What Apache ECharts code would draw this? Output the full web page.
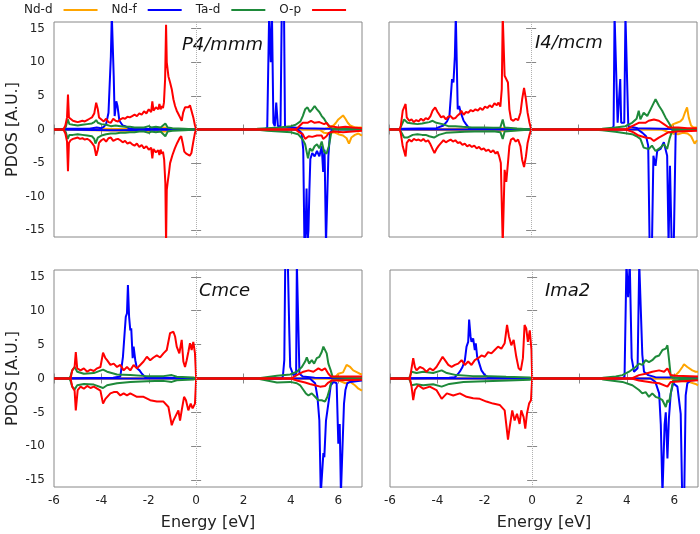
<!DOCTYPE html>
<html>
<head>
<meta charset="utf-8">
<script src="https://cdn.jsdelivr.net/npm/echarts@6/dist/echarts.min.js"></script>
<style>
  html, body { margin: 0; padding: 0; background: #fff; }
  #chart { width: 700px; height: 534px; }
</style>
</head>
<body>
<div id="chart"></div>
<script>
// tick labels
const xTicks = [-6, -4, -2, 0, 2, 4, 6]
const yTicks = [-15, -10, -5, 0, 5, 10, 15]
const speciesNames = ['Nd-d', 'Nd-f', 'Ta-d', 'O-p']
const panelTitles = ['P4/mmm', 'I4/mcm', 'Cmce', 'Ima2']

// ---- P4/mmm : [energy, pdos] ----
const pm_Ndd_up = [[-6,0],[-5.5,0.05],[-4.2,0.1],[-2,0.05],[-1.3,0.3],[-1.2,0.05],[0,0],[5.4,0],[5.6,0.3],[5.8,0.6],[5.9,1.0],[6.0,1.5],[6.1,1.8],[6.2,2.1],[6.3,1.6],[6.4,1.0],[6.5,0.6],[6.7,0.3],[7,0.3]]
const pm_Ndd_dn = [[-6,0],[-5.5,-0.05],[-1.3,-0.3],[-1.2,-0.05],[0,0],[5.2,0],[5.4,-0.5],[5.6,-0.6],[5.8,-0.4],[6.0,-0.7],[6.2,-0.9],[6.35,-1.3],[6.45,-2.1],[6.55,-1.2],[6.7,-0.8],[6.85,-0.6],[7,-0.9]]
const pm_Ndf_up = [[-6,0],[-5.5,0.1],[-4.5,0.1],[-4.2,0.3],[-4.0,0.2],[-3.9,0.4],[-3.8,0.8],[-3.7,2.5],[-3.6,10.9],[-3.56,17],[-3.52,17],[-3.48,8],[-3.44,2.0],[-3.37,4.2],[-3.32,3.5],[-3.24,1.3],[-3.1,0.6],[-3.0,0.5],[-2.9,0.3],[-2.8,0.1],[0,0],[2.9,0],[3.0,0.3],[3.08,17],[3.15,10],[3.2,17],[3.26,1],[3.32,0.5],[3.38,4],[3.45,0.5],[3.56,0.5],[3.61,17],[3.71,17],[3.75,0.4],[4.5,0.2],[5.5,0.1],[7,0]]
const pm_Ndf_dn = [[-6,0],[-3.5,-0.1],[0,0],[4.3,0],[4.45,-0.5],[4.52,-3],[4.57,-17],[4.62,-15],[4.66,-8.8],[4.7,-17],[4.74,-15],[4.78,-9],[4.82,-4.4],[4.9,-3.5],[5.0,-4.0],[5.1,-3.2],[5.2,-4.0],[5.3,-2.5],[5.36,-6.3],[5.42,-3.0],[5.48,-17],[5.53,-17],[5.58,-4],[5.65,-0.5],[5.75,0],[7,0]]
const pm_Tad_up = [[-6,0],[-5.6,0],[-5.5,0.4],[-5.42,1.5],[-5.35,0.8],[-5.2,0.7],[-5.0,0.6],[-4.8,0.7],[-4.6,0.8],[-4.4,0.9],[-4.3,1.1],[-4.22,1.4],[-4.15,1.0],[-4.0,0.8],[-3.8,0.7],[-3.6,0.5],[-3.4,0.6],[-3.2,0.5],[-3.0,0.4],[-2.8,0.4],[-2.6,0.3],[-2.4,0.3],[-2.2,0.3],[-2.0,0.5],[-1.9,0.3],[-1.7,0.4],[-1.5,0.3],[-1.3,0.9],[-1.2,0.3],[-1.0,0.2],[-0.5,0.1],[0,0],[2.5,0],[2.6,0.1],[3.0,0.2],[3.5,0.3],[4.0,0.5],[4.2,0.7],[4.4,1.2],[4.5,2.0],[4.6,3.0],[4.7,3.3],[4.8,2.6],[4.9,3.0],[5.0,3.5],[5.1,3.0],[5.2,2.6],[5.3,2.0],[5.4,1.6],[5.5,1.0],[5.6,0.6],[5.7,0.2],[5.8,0.1],[7,0]]
const pm_Tad_dn = [[-6,0],[-5.6,0],[-5.5,-0.4],[-5.42,-1.4],[-5.35,-0.8],[-5.2,-0.8],[-5.0,-0.7],[-4.8,-0.8],[-4.6,-0.9],[-4.4,-1.0],[-4.3,-1.4],[-4.25,-2.1],[-4.15,-1.2],[-4.0,-0.9],[-3.8,-0.7],[-3.6,-0.6],[-3.4,-0.6],[-3.2,-0.5],[-3.0,-0.5],[-2.8,-0.4],[-2.6,-0.4],[-2.4,-0.3],[-2.2,-0.3],[-2.0,-0.5],[-1.9,-0.3],[-1.7,-0.4],[-1.5,-0.3],[-1.3,-1.0],[-1.2,-0.3],[-1.0,-0.2],[-0.5,-0.1],[0,0],[2.5,0],[3,-0.2],[3.5,-0.3],[4.0,-0.4],[4.3,-0.7],[4.5,-1.5],[4.6,-2.2],[4.72,-4.3],[4.8,-2.8],[4.9,-3.2],[5.0,-2.5],[5.1,-2.2],[5.2,-2.8],[5.3,-1.8],[5.4,-3.3],[5.5,-3.6],[5.6,-2.5],[5.7,-0.5],[5.8,0],[7,0]]
const pm_Op_up = [[-6,0],[-5.6,0],[-5.52,0.6],[-5.45,1.8],[-5.41,5.2],[-5.37,1.8],[-5.3,1.6],[-5.2,1.3],[-5.1,1.2],[-5.0,1.1],[-4.9,1.2],[-4.8,1.3],[-4.7,1.2],[-4.6,1.4],[-4.5,1.6],[-4.4,1.8],[-4.3,2.4],[-4.22,4.0],[-4.15,3.0],[-4.1,1.8],[-4.0,1.5],[-3.9,1.2],[-3.8,1.6],[-3.7,1.1],[-3.6,1.0],[-3.5,1.6],[-3.4,1.3],[-3.3,1.2],[-3.2,1.5],[-3.1,1.7],[-3.0,1.6],[-2.9,1.9],[-2.8,1.8],[-2.7,2.0],[-2.6,2.2],[-2.5,2.0],[-2.4,2.4],[-2.3,2.2],[-2.2,2.7],[-2.1,2.4],[-2.0,3.0],[-1.9,2.6],[-1.85,4.2],[-1.8,2.8],[-1.7,3.3],[-1.6,3.0],[-1.55,3.8],[-1.5,3.0],[-1.45,3.5],[-1.4,3.2],[-1.36,4.0],[-1.31,7.5],[-1.27,15.6],[-1.24,10.0],[-1.17,7.9],[-1.1,7.0],[-1.03,6.0],[-0.96,4.5],[-0.89,3.5],[-0.82,2.8],[-0.75,2.3],[-0.68,1.8],[-0.61,1.3],[-0.55,2.5],[-0.47,3.3],[-0.4,3.5],[-0.33,3.3],[-0.26,3.6],[-0.19,3.4],[-0.12,1.8],[-0.05,0.6],[0,0],[4.2,0],[4.3,0.3],[4.5,1.0],[4.7,1.0],[4.85,1.3],[5.0,1.0],[5.2,1.1],[5.4,0.8],[5.5,1.0],[5.6,0.5],[5.8,0.4],[6.0,0.3],[6.3,0.4],[6.6,0.3],[7,0.2]]
const pm_Op_dn = [[-6,0],[-5.6,0],[-5.52,-0.6],[-5.45,-1.8],[-5.41,-6.2],[-5.37,-2.0],[-5.3,-1.6],[-5.2,-1.4],[-5.1,-1.3],[-5.0,-1.2],[-4.9,-1.4],[-4.8,-1.3],[-4.7,-1.5],[-4.6,-1.4],[-4.5,-1.6],[-4.4,-2.0],[-4.3,-2.5],[-4.22,-3.9],[-4.15,-3.0],[-4.1,-2.0],[-4.0,-1.6],[-3.9,-1.4],[-3.8,-1.8],[-3.7,-1.3],[-3.6,-1.2],[-3.5,-1.7],[-3.4,-1.5],[-3.3,-1.4],[-3.2,-1.6],[-3.1,-1.9],[-3.0,-1.7],[-2.9,-2.1],[-2.8,-1.9],[-2.7,-2.2],[-2.6,-2.4],[-2.5,-2.1],[-2.4,-2.6],[-2.3,-2.3],[-2.2,-2.8],[-2.1,-2.5],[-2.0,-3.0],[-1.9,-2.7],[-1.85,-4.3],[-1.8,-2.9],[-1.7,-3.4],[-1.6,-3.1],[-1.55,-3.8],[-1.5,-3.0],[-1.45,-3.6],[-1.4,-3.3],[-1.35,-4.5],[-1.3,-8.0],[-1.27,-17],[-1.24,-9.0],[-1.2,-7.8],[-1.15,-6.5],[-1.1,-5.0],[-1.0,-3.8],[-0.9,-2.8],[-0.8,-2.0],[-0.7,-1.3],[-0.63,-1.0],[-0.57,-2.0],[-0.5,-3.3],[-0.42,-3.6],[-0.35,-3.4],[-0.27,-3.9],[-0.2,-3.5],[-0.12,-1.8],[-0.05,-0.5],[0,0],[4.2,0],[4.3,-0.3],[4.5,-0.7],[4.6,-1.4],[4.75,-1.0],[4.9,-1.1],[5.1,-0.9],[5.3,-0.9],[5.36,-1.4],[5.5,-1.0],[5.6,-0.5],[5.8,-0.3],[6.2,-0.4],[6.6,-0.3],[7,-0.2]]

// ---- I4/mcm ----
const im_Ndd_up = [[-6,0],[-1.2,0.2],[0,0],[5.7,0],[5.9,0.5],[6.0,0.8],[6.15,1.0],[6.3,1.2],[6.4,1.6],[6.5,2.6],[6.58,3.3],[6.65,1.8],[6.75,0.6],[6.85,0.3],[7,0.3]]
const im_Ndd_dn = [[-6,0],[-1.2,-0.2],[0,0],[5.5,0],[5.8,-0.4],[6.0,-0.6],[6.2,-0.7],[6.4,-0.5],[6.6,-0.6],[6.75,-1.0],[6.9,-2.1],[7,-1.6]]
const im_Ndf_up = [[-6,0],[-5.4,0.1],[-4.0,0.2],[-3.7,0.6],[-3.55,1.2],[-3.45,2.0],[-3.34,7.5],[-3.28,7.0],[-3.22,10.9],[-3.18,17],[-3.13,17],[-3.1,3.0],[-3.04,3.5],[-2.97,2.5],[-2.85,1.3],[-2.75,0.8],[-2.6,0.1],[0,0],[3.4,0],[3.48,0.5],[3.52,17],[3.6,17],[3.65,1.0],[3.72,1.0],[3.76,7.5],[3.8,1.0],[3.93,1.0],[3.98,17],[4.05,17],[4.1,0.5],[4.5,0.2],[7,0]]
const im_Ndf_dn = [[-6,0],[0,0],[4.5,0],[4.7,-0.5],[4.85,-1.0],[4.94,-2.4],[5.0,-17],[5.1,-17],[5.16,-3.9],[5.25,-5.4],[5.32,-3.2],[5.46,-2.9],[5.6,-1.9],[5.74,-3.9],[5.8,-17],[5.86,-5.4],[5.93,-17],[6.02,-17],[6.1,-0.4],[6.24,0],[7,0]]
const im_Tad_up = [[-6,0],[-5.55,0],[-5.5,0.2],[-5.36,1.5],[-5.22,1.0],[-5.0,0.9],[-4.8,0.8],[-4.6,0.9],[-4.45,1.0],[-4.3,1.1],[-4.16,1.3],[-4.0,1.0],[-3.74,0.8],[-3.5,0.5],[-3.2,0.5],[-2.9,0.4],[-2.5,0.3],[-2.0,0.3],[-1.6,0.25],[-1.3,0.3],[-1.2,1.5],[-1.12,0.3],[-0.6,0.15],[0,0],[2.6,0],[3.0,0.1],[3.55,0.3],[3.98,0.5],[4.26,1.0],[4.45,1.6],[4.54,2.8],[4.61,1.5],[4.75,2.5],[4.9,2.0],[5.04,3.0],[5.18,4.0],[5.25,4.5],[5.4,3.5],[5.53,2.8],[5.67,1.8],[5.81,1.0],[5.95,0.1],[7,0]]
const im_Tad_dn = [[-6,0],[-5.55,0],[-5.5,-0.3],[-5.36,-1.2],[-5.22,-1.2],[-5.0,-0.8],[-4.8,-0.7],[-4.6,-0.8],[-4.45,-0.8],[-4.3,-1.0],[-4.1,-1.2],[-3.9,-0.8],[-3.6,-0.5],[-3.2,-0.4],[-2.8,-0.35],[-2.4,-0.3],[-2.0,-0.3],[-1.6,-0.25],[-1.3,-0.4],[-1.2,-1.4],[-1.12,-0.3],[-0.6,-0.15],[0,0],[2.6,0],[3.0,-0.1],[3.55,-0.35],[4.26,-0.7],[4.45,-1.0],[4.61,-1.4],[4.75,-2.7],[4.96,-2.9],[5.1,-2.4],[5.25,-3.2],[5.46,-2.7],[5.6,-2.2],[5.74,-2.9],[5.84,-1.4],[5.95,-0.2],[7,0]]
const im_Op_up = [[-6,0],[-5.55,0],[-5.5,0.6],[-5.42,2.8],[-5.3,3.8],[-5.25,1.8],[-5.15,1.3],[-5.05,1.5],[-4.95,1.1],[-4.85,1.4],[-4.75,1.2],[-4.65,1.6],[-4.55,1.3],[-4.45,1.7],[-4.35,1.5],[-4.25,2.0],[-4.16,2.8],[-4.05,3.3],[-3.95,2.6],[-3.9,2.8],[-3.8,1.8],[-3.7,2.0],[-3.6,1.5],[-3.5,1.9],[-3.4,2.0],[-3.3,1.6],[-3.2,1.7],[-3.1,2.1],[-3.0,2.4],[-2.95,2.8],[-2.85,2.2],[-2.75,2.6],[-2.65,2.5],[-2.55,2.9],[-2.45,2.7],[-2.35,3.0],[-2.25,2.8],[-2.15,3.2],[-2.05,2.9],[-1.95,3.4],[-1.85,3.2],[-1.75,3.6],[-1.65,3.3],[-1.55,3.9],[-1.45,3.6],[-1.38,4.0],[-1.3,3.4],[-1.24,6],[-1.2,17],[-1.16,17],[-1.12,8],[-1.05,8.0],[-0.98,7],[-0.92,3.0],[-0.85,1.5],[-0.75,1.3],[-0.65,1.6],[-0.55,1.4],[-0.45,2.5],[-0.38,4.5],[-0.3,6.2],[-0.22,4.5],[-0.15,2.5],[-0.07,1.0],[0,0],[4.0,0],[4.26,0.5],[4.54,1.0],[4.82,1.0],[4.96,1.3],[5.18,1.5],[5.39,1.3],[5.6,0.8],[5.81,0.3],[6.2,0.3],[6.6,0.2],[7,0.2]]
const im_Op_dn = [[-6,0],[-5.55,0],[-5.5,-0.6],[-5.42,-2.5],[-5.3,-4.0],[-5.25,-2.0],[-5.15,-1.5],[-5.05,-1.8],[-4.95,-1.4],[-4.85,-1.6],[-4.75,-1.5],[-4.65,-1.7],[-4.55,-1.4],[-4.45,-1.8],[-4.35,-1.6],[-4.25,-2.2],[-4.15,-3.0],[-4.08,-3.5],[-3.98,-2.8],[-3.9,-2.4],[-3.8,-2.0],[-3.7,-1.6],[-3.6,-1.9],[-3.5,-1.7],[-3.4,-1.5],[-3.3,-1.8],[-3.2,-1.6],[-3.1,-2.0],[-3.0,-1.9],[-2.9,-2.3],[-2.8,-2.1],[-2.7,-2.5],[-2.6,-2.3],[-2.5,-2.6],[-2.4,-2.4],[-2.3,-2.8],[-2.2,-2.6],[-2.1,-3.0],[-2.0,-2.8],[-1.9,-3.2],[-1.8,-3.0],[-1.7,-3.4],[-1.6,-3.1],[-1.5,-3.6],[-1.42,-3.3],[-1.35,-4.0],[-1.28,-5],[-1.2,-17],[-1.16,-17],[-1.12,-6],[-1.05,-7.8],[-0.98,-5],[-0.92,-2.5],[-0.85,-1.5],[-0.75,-1.3],[-0.65,-1.8],[-0.55,-1.5],[-0.45,-2.5],[-0.38,-4.5],[-0.3,-5.6],[-0.22,-4.0],[-0.15,-2.0],[-0.07,-0.8],[0,0],[4.0,0],[4.3,-0.4],[4.54,-0.9],[4.82,-1.2],[5.04,-1.3],[5.18,-1.7],[5.39,-1.2],[5.6,-0.8],[5.8,-0.4],[6.2,-0.3],[7,-0.2]]

// ---- Cmce ----
const cm_Ndd_up = [[-6,0],[0,0],[5.7,0],[5.9,0.3],[6.0,0.7],[6.2,0.9],[6.35,2.0],[6.5,1.7],[6.63,1.2],[6.8,0.9],[6.91,0.7],[7,0.6]]
const cm_Ndd_dn = [[-6,0],[0,0],[5.7,0],[5.9,-0.2],[6.1,-0.4],[6.3,-0.7],[6.5,-0.5],[6.7,-1.0],[6.85,-1.5],[7,-1.8]]
const cm_Ndf_up = [[-6,0],[-5.3,0.05],[-3.5,0.1],[-3.2,0.3],[-3.09,3.2],[-3.03,6.2],[-2.97,9.1],[-2.92,9.6],[-2.88,13.8],[-2.83,9.1],[-2.78,7.1],[-2.74,7.4],[-2.68,3.0],[-2.64,4.7],[-2.57,2.7],[-2.5,1.5],[-2.39,1.2],[-2.29,0.7],[-2.15,0.2],[0,0],[3.6,0],[3.66,0.3],[3.72,2.7],[3.76,17],[3.87,17],[3.93,7.1],[3.97,1.7],[4.1,0.5],[4.22,0.7],[4.25,17],[4.32,17],[4.36,0.7],[4.5,0.3],[5,0.1],[7,0]]
const cm_Ndf_dn = [[-6,0],[0,0],[4.8,0],[5.02,-0.7],[5.12,-2.7],[5.2,-6.2],[5.26,-17],[5.33,-17],[5.37,-11],[5.41,-11.6],[5.48,-6.2],[5.54,-4.7],[5.62,-2.7],[5.68,-1.0],[5.8,-0.5],[5.93,-0.7],[6.0,-9.6],[6.06,-6.7],[6.11,-17],[6.18,-17],[6.24,-3.7],[6.3,-1.7],[6.38,-0.7],[6.5,-0.5],[7,-0.3]]
const cm_Tad_up = [[-6,0],[-5.35,0],[-5.3,0.4],[-5.23,1.2],[-5.13,1.7],[-5.02,1.0],[-4.74,0.7],[-4.32,0.8],[-3.93,1.3],[-3.76,1.0],[-3.34,0.6],[-2.78,0.5],[-2.08,0.35],[-1.38,0.35],[-1.03,0.5],[-0.82,0.25],[-0.12,0.15],[0,0],[2.57,0],[3.41,0.4],[3.97,0.6],[4.25,1.0],[4.46,1.7],[4.6,2.5],[4.67,3.1],[4.77,2.2],[4.88,2.7],[4.98,2.2],[5.09,3.0],[5.2,3.2],[5.3,3.9],[5.37,4.7],[5.44,4.9],[5.51,3.7],[5.58,2.2],[5.68,1.2],[5.76,0.2],[7,0]]
const cm_Tad_dn = [[-6,0],[-5.35,0],[-5.3,-0.4],[-5.23,-1.2],[-5.13,-1.6],[-5.02,-1.0],[-4.74,-0.8],[-4.32,-0.9],[-3.93,-1.4],[-3.76,-1.0],[-3.34,-0.7],[-2.78,-0.5],[-2.08,-0.4],[-1.38,-0.35],[-1.03,-0.5],[-0.82,-0.25],[-0.12,-0.15],[0,0],[2.57,0],[3.41,-0.6],[3.97,-0.5],[4.25,-0.7],[4.39,-1.0],[4.53,-1.7],[4.63,-2.2],[4.74,-2.5],[4.88,-2.2],[5.02,-2.7],[5.16,-3.2],[5.3,-3.2],[5.44,-3.4],[5.54,-2.7],[5.62,-1.7],[5.72,-0.3],[7,0]]
const cm_Op_up = [[-6,0],[-5.3,0],[-5.23,1.2],[-5.13,1.7],[-5.08,3.9],[-5.02,1.5],[-4.88,1.2],[-4.74,1.5],[-4.6,1.0],[-4.46,1.3],[-4.32,1.1],[-4.18,1.5],[-4.04,1.7],[-3.93,3.8],[-3.83,3.0],[-3.76,2.7],[-3.62,2.0],[-3.48,2.2],[-3.34,1.7],[-3.2,2.0],[-3.06,1.2],[-2.92,1.7],[-2.78,1.2],[-2.64,2.0],[-2.5,1.5],[-2.36,2.0],[-2.22,2.5],[-2.08,3.2],[-1.94,2.7],[-1.8,3.1],[-1.66,3.4],[-1.52,3.1],[-1.38,3.7],[-1.24,4.2],[-1.1,6.7],[-0.96,6.9],[-0.89,6.2],[-0.82,4.7],[-0.71,3.7],[-0.61,5.7],[-0.54,2.5],[-0.47,1.7],[-0.4,2.7],[-0.33,3.9],[-0.26,5.2],[-0.19,4.2],[-0.12,5.4],[-0.05,3.7],[0,0],[4.0,0],[4.25,0.5],[4.53,1.0],[4.74,1.2],[4.95,1.0],[5.16,1.5],[5.3,1.2],[5.44,1.5],[5.58,0.7],[5.68,0.3],[7,0.3]]
const cm_Op_dn = [[-6,0],[-5.3,0],[-5.23,-1.2],[-5.13,-1.8],[-5.08,-4.7],[-5.0,-1.7],[-4.88,-1.2],[-4.74,-1.5],[-4.6,-1.1],[-4.46,-1.4],[-4.32,-1.2],[-4.18,-1.5],[-4.04,-1.8],[-3.93,-3.7],[-3.83,-3.0],[-3.62,-2.2],[-3.48,-2.0],[-3.34,-2.0],[-3.2,-2.5],[-3.06,-2.2],[-2.92,-2.5],[-2.78,-2.2],[-2.5,-2.7],[-2.22,-2.7],[-1.94,-3.2],[-1.66,-3.4],[-1.38,-3.4],[-1.17,-4.2],[-1.03,-6.9],[-0.96,-6.2],[-0.89,-5.7],[-0.75,-4.7],[-0.68,-6.2],[-0.61,-4.7],[-0.51,-2.7],[-0.43,-3.2],[-0.33,-4.7],[-0.23,-3.7],[-0.15,-4.4],[-0.05,-3.7],[0,0],[4.0,0],[4.25,-0.3],[4.6,-0.6],[4.8,-0.8],[5.02,-1.0],[5.23,-1.2],[5.44,-1.1],[5.58,-0.6],[5.72,-0.3],[7,-0.2]]

// ---- Ima2 ----
const ia_Ndd_up = [[-6,0],[0,0],[5.8,0],[5.85,0.1],[6.06,0.5],[6.2,1.0],[6.34,1.7],[6.41,2.1],[6.55,1.7],[6.76,1.2],[6.9,1.0],[7,1.0]]
const ia_Ndd_dn = [[-6,0],[0,0],[5.85,0],[6.1,-0.3],[6.4,-0.4],[6.6,-0.5],[6.9,-0.8],[7,-1.0]]
const ia_Ndf_up = [[-6,0],[-5.2,0.05],[-3.5,0.1],[-3.26,0.2],[-3.12,0.7],[-3.02,1.2],[-2.94,1.7],[-2.84,2.7],[-2.77,4.7],[-2.7,5.4],[-2.66,8.7],[-2.6,6.2],[-2.56,5.4],[-2.49,5.9],[-2.42,4.2],[-2.38,5.2],[-2.32,3.2],[-2.24,3.0],[-2.14,1.2],[-2.0,0.5],[-1.86,0.2],[0,0],[3.8,0],[3.9,0.3],[3.98,17],[4.05,12],[4.12,17],[4.2,3.0],[4.3,1.0],[4.45,1.5],[4.52,17],[4.6,17],[4.65,3.5],[4.72,1.0],[4.9,0.5],[5.2,0.2],[7,0.1]]
const ia_Ndf_dn = [[-6,0],[0,0],[5.0,0],[5.2,-0.5],[5.36,-2.2],[5.43,-6.8],[5.5,-17],[5.55,-17],[5.59,-6.8],[5.64,-5.0],[5.71,-11.8],[5.77,-6.0],[5.85,-2.2],[5.95,-0.7],[6.13,-1.2],[6.2,-3.2],[6.27,-5.2],[6.33,-17],[6.42,-17],[6.48,-2.5],[6.55,-0.7],[6.7,-0.3],[7,-0.2]]
const ia_Tad_up = [[-6,0],[-5.2,0],[-5.16,0.3],[-5.09,1.0],[-4.88,0.8],[-4.6,1.0],[-4.18,0.8],[-3.82,1.2],[-3.6,0.8],[-3.2,0.5],[-2.5,0.35],[-1.8,0.35],[-1.1,0.25],[-0.1,0.15],[0,0],[2.9,0],[3.0,0.1],[3.53,0.3],[3.81,0.5],[4.09,1.0],[4.37,1.7],[4.51,2.2],[4.65,2.0],[4.79,2.7],[4.93,2.4],[5.07,2.7],[5.21,3.2],[5.36,3.4],[5.5,4.2],[5.64,4.4],[5.71,4.9],[5.78,2.7],[5.85,0.3],[5.95,0.1],[7,0]]
const ia_Tad_dn = [[-6,0],[-5.2,0],[-5.16,-0.3],[-5.09,-1.0],[-4.88,-0.85],[-4.6,-1.0],[-4.18,-0.85],[-3.82,-1.2],[-3.5,-0.8],[-2.9,-0.5],[-2.0,-0.4],[-1.0,-0.3],[-0.1,-0.2],[0,0],[2.9,0],[3.0,-0.15],[3.81,-0.5],[4.23,-1.0],[4.51,-1.7],[4.65,-2.2],[4.79,-2.0],[4.93,-2.7],[5.07,-2.2],[5.21,-2.7],[5.36,-2.9],[5.5,-3.2],[5.64,-4.2],[5.71,-3.2],[5.78,-3.5],[5.85,-2.2],[5.95,-0.3],[7,0]]
const ia_Op_up = [[-6,0],[-5.16,0],[-5.09,1.5],[-5.02,3.0],[-4.95,1.7],[-4.88,1.2],[-4.74,1.7],[-4.6,1.5],[-4.46,1.0],[-4.32,1.5],[-4.18,1.2],[-4.04,1.7],[-3.9,2.5],[-3.78,3.2],[-3.68,2.7],[-3.54,2.0],[-3.4,1.7],[-3.26,2.0],[-3.12,2.2],[-2.98,2.7],[-2.84,2.0],[-2.7,2.5],[-2.56,2.0],[-2.42,2.7],[-2.28,3.0],[-2.14,3.4],[-2.0,3.2],[-1.86,3.9],[-1.72,3.7],[-1.58,4.2],[-1.44,4.7],[-1.3,4.4],[-1.16,5.2],[-1.06,7.9],[-0.98,6.2],[-0.88,4.9],[-0.78,5.7],[-0.67,3.2],[-0.57,1.5],[-0.48,1.2],[-0.39,3.0],[-0.32,7.9],[-0.25,7.4],[-0.18,5.4],[-0.1,7.1],[-0.03,4.2],[0,0],[4.2,0],[4.51,0.5],[4.79,0.7],[5.07,1.0],[5.36,1.2],[5.57,1.0],[5.71,1.5],[5.85,0.5],[6.06,0.4],[7,0.3]]
const ia_Op_dn = [[-6,0],[-5.16,0],[-5.09,-1.2],[-5.02,-3.2],[-4.95,-1.7],[-4.81,-1.0],[-4.6,-1.5],[-4.32,-1.2],[-4.04,-1.7],[-3.82,-3.0],[-3.6,-2.2],[-3.33,-2.5],[-3.05,-2.2],[-2.77,-2.7],[-2.49,-2.9],[-2.21,-3.0],[-1.93,-3.4],[-1.65,-3.7],[-1.37,-3.9],[-1.16,-4.7],[-1.02,-9.0],[-0.95,-7.2],[-0.84,-4.7],[-0.74,-6.2],[-0.64,-5.2],[-0.53,-6.7],[-0.46,-4.7],[-0.36,-5.7],[-0.29,-7.4],[-0.22,-5.2],[-0.13,-3.7],[-0.05,-3.2],[0,0],[4.2,0],[4.51,-0.3],[5.07,-0.6],[5.36,-0.7],[5.71,-1.2],[5.85,-0.5],[7,-0.25]]

// per panel: [up, down] for each species in draw order
const panels = [
	[[pm_Ndd_up, pm_Ndd_dn], [pm_Ndf_up, pm_Ndf_dn], [pm_Tad_up, pm_Tad_dn], [pm_Op_up, pm_Op_dn]],
	[[im_Ndd_up, im_Ndd_dn], [im_Ndf_up, im_Ndf_dn], [im_Tad_up, im_Tad_dn], [im_Op_up, im_Op_dn]],
	[[cm_Ndd_up, cm_Ndd_dn], [cm_Ndf_up, cm_Ndf_dn], [cm_Tad_up, cm_Tad_dn], [cm_Op_up, cm_Op_dn]],
	[[ia_Ndd_up, ia_Ndd_dn], [ia_Ndf_up, ia_Ndf_dn], [ia_Tad_up, ia_Tad_dn], [ia_Op_up, ia_Op_dn]]
]

const colors = ['#FFA500', '#0000FF', '#1E8A3A', '#FF0000']
const font = '"DejaVu Sans", sans-serif'
const frameColor = '#888888'
const textColor = '#222222'

// grid boxes (px)
const gridBoxes = [
	{ left: 54, top: 22, width: 308, height: 215 },
	{ left: 389, top: 22, width: 308, height: 215 },
	{ left: 54, top: 270, width: 308, height: 217 },
	{ left: 390, top: 270, width: 308, height: 217 }
]
const titlePos = [[182, 45], [535, 43], [199, 291], [545, 291]]

const grids = gridBoxes.map(b => ({ ...b, show: true, borderColor: frameColor, borderWidth: 1, backgroundColor: 'transparent' }))

const xAxes = []
const yAxes = []
gridBoxes.forEach((b, i) => {
	const bottomRow = i >= 2
	const leftCol = i % 2 === 0
	const xBase = {
		type: 'value', gridIndex: i, min: -6, max: 7,
		axisLine: { show: false },
		splitLine: { show: false },
		axisTick: { inside: true, length: 5, lineStyle: { color: frameColor }, customValues: xTicks }
	}
	xAxes.push({
		...xBase, position: 'bottom',
		axisLabel: { show: bottomRow, customValues: xTicks, color: textColor, fontSize: 12, fontFamily: font, margin: 8 },
		name: bottomRow ? 'Energy [eV]' : '',
		nameLocation: 'middle', nameGap: 28,
		nameTextStyle: { fontSize: 16, color: textColor, fontFamily: font }
	})
	xAxes.push({ ...xBase, position: 'top', axisLabel: { show: false } })
	const yBase = {
		type: 'value', gridIndex: i, min: -16, max: 16,
		axisLine: { show: false },
		splitLine: { show: false },
		axisTick: { inside: true, length: 5, lineStyle: { color: frameColor }, customValues: yTicks }
	}
	yAxes.push({
		...yBase, position: 'left',
		axisLabel: { show: leftCol, customValues: yTicks, color: textColor, fontSize: 12, fontFamily: font, margin: 9 },
		name: leftCol ? 'PDOS [A.U.]' : '',
		nameLocation: 'middle', nameGap: 33, nameMoveOverlap: false,
		nameTextStyle: { fontSize: 16, color: textColor, fontFamily: font }
	})
	yAxes.push({ ...yBase, position: 'right', axisLabel: { show: false } })
})

const series = []
panels.forEach((curves, i) => {
	curves.forEach((pair, s) => {
		pair.forEach((data, k) => {
			const item = {
				type: 'line',
				name: speciesNames[s],
				xAxisIndex: 2 * i,
				yAxisIndex: 2 * i,
				data: data,
				showSymbol: false,
				symbol: 'none',
				silent: true,
				animation: false,
				lineStyle: { width: 2, color: colors[s] },
				itemStyle: { color: colors[s] }
			}
			// dotted Fermi level line
			if (s === 0 && k === 0) {
				item.markLine = {
					silent: true,
					symbol: ['none', 'none'],
					label: { show: false },
					lineStyle: { type: 'dotted', color: '#b0b0b0', width: 1 },
					data: [{ xAxis: 0 }]
				}
			}
			series.push(item)
		})
	})
})

const chart = echarts.init(document.getElementById('chart'))
chart.setOption({
	animation: false,
	backgroundColor: '#ffffff',
	legend: {
		data: speciesNames,
		top: -1,
		left: 19,
		align: 'right',
		icon: 'rect',
		itemWidth: 34,
		itemHeight: 2,
		itemGap: 14,
		textStyle: { fontSize: 12, color: textColor, fontFamily: font, padding: [0, 6, 0, 0] }
	},
	grid: grids,
	xAxis: xAxes,
	yAxis: yAxes,
	graphic: panelTitles.map((t, i) => ({
		type: 'text',
		x: titlePos[i][0],
		y: titlePos[i][1],
		silent: true,
		style: { text: t, fontSize: 18, fontStyle: 'italic', fontFamily: font, fill: '#111', verticalAlign: 'middle' }
	})),
	series: series
})
</script>
</body>
</html>
